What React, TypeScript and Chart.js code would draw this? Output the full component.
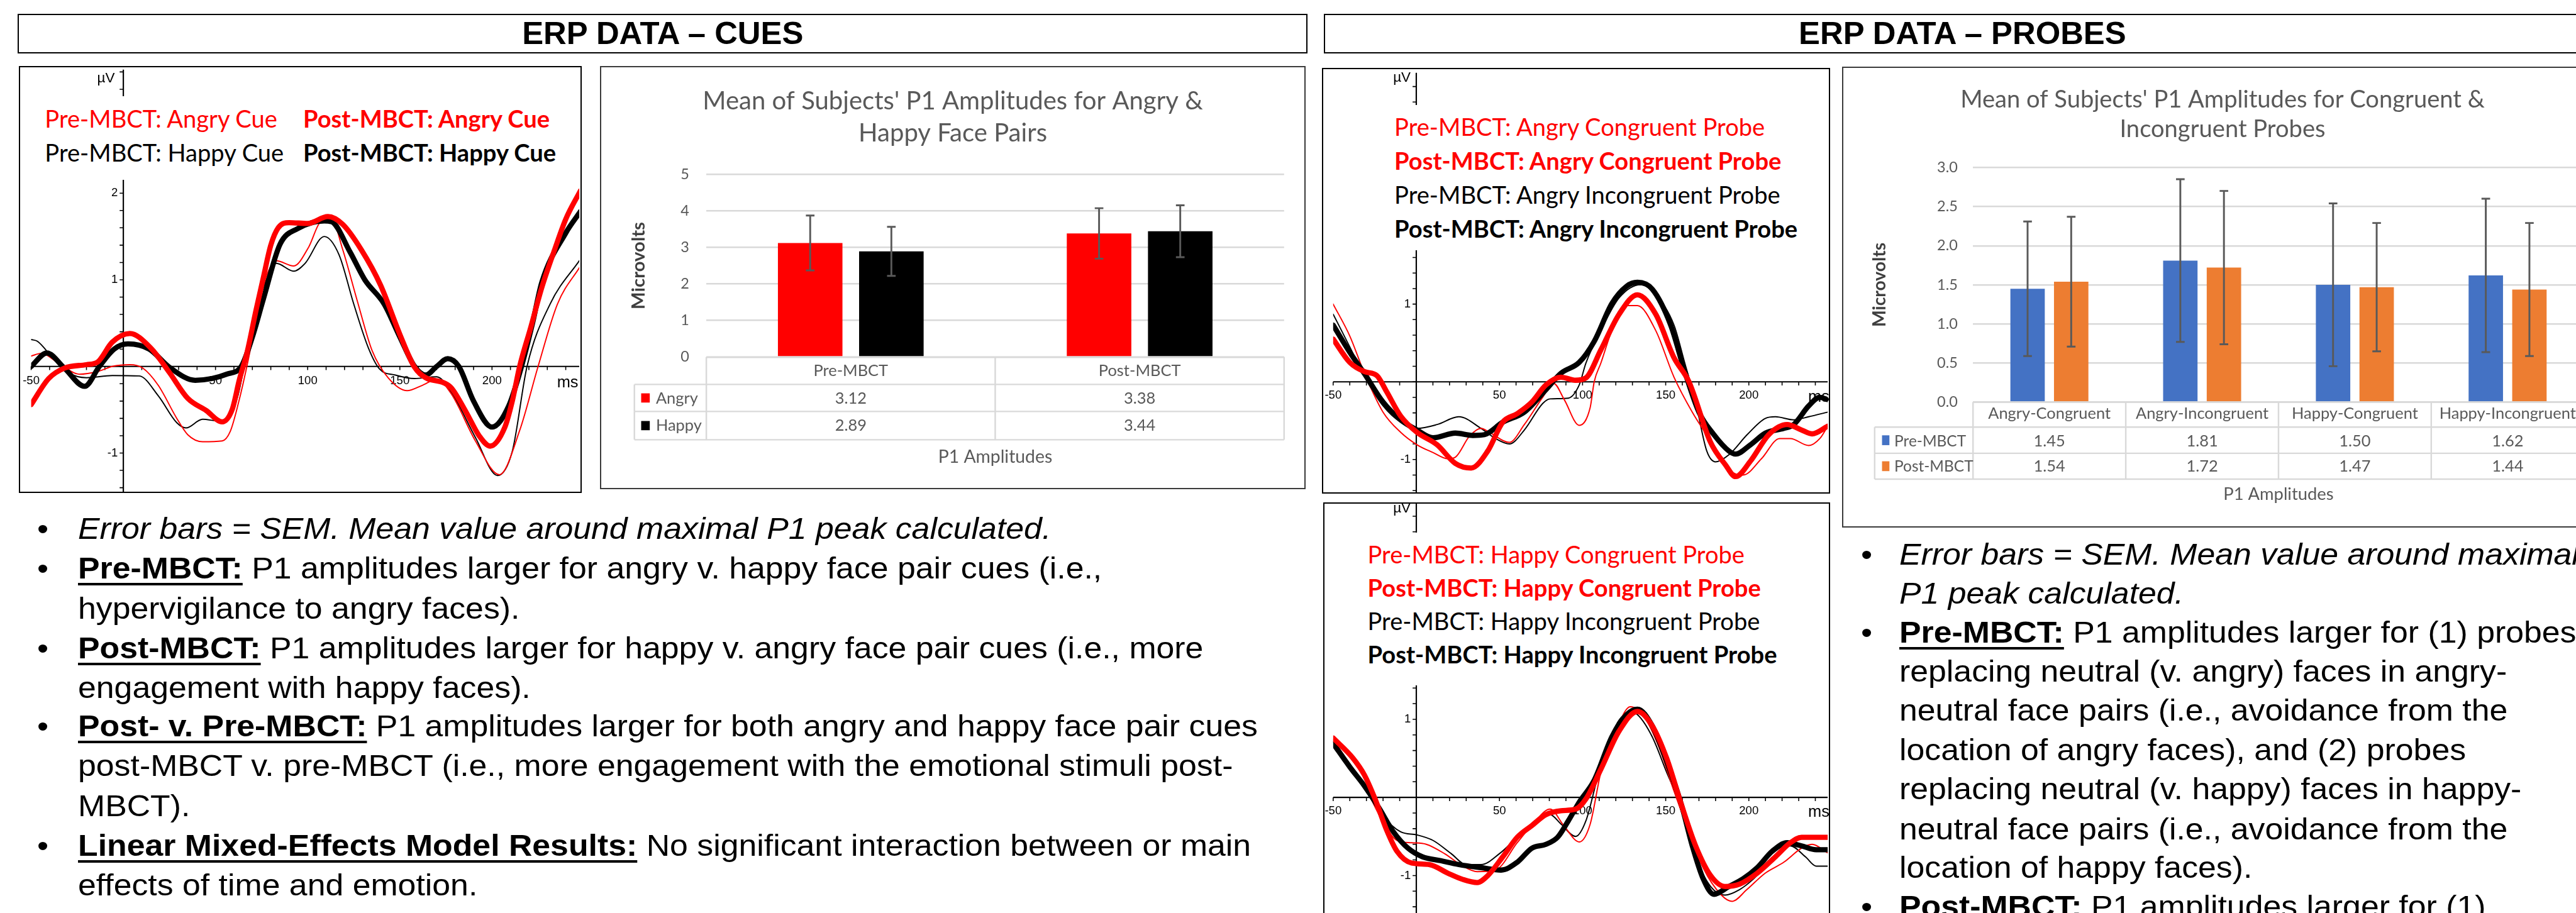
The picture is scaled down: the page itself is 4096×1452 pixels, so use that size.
import React, { useEffect, useRef } from 'react';
import { Chart, registerables } from 'chart.js';
Chart.register(...registerables);

const S = 4096 / 4190;
const p = (v: number) => v * S;

const ARIAL = "'Liberation Sans', Arial, Helvetica, sans-serif";
const CAL = "Lato, 'Open Sans', sans-serif";
const RED = '#FF0000';
const BLACK = '#000000';
const XL_TEXT = '#595959';
const XL_GRID = '#d9d9d9';

// ---------------- ERP waveform data (ms, µV) ----------------
const cuesPostAngryT = [-50, -40.5, -32, -20, -14, -6, 3.5, 15, 25, 35, 45, 53.6, 59, 63, 67, 72, 76, 80, 84, 90, 100, 111, 119, 129, 139.5, 150, 158, 164, 174, 178, 186, 193, 199, 207, 211, 215, 221, 227, 234, 240, 248];
const cuesPostAngryV = [-0.44, -0.14, -0.02, 0.02, 0.05, 0.28, 0.38, 0.21, -0.07, -0.37, -0.51, -0.64, -0.5, -0.15, 0.15, 0.65, 1.03, 1.4, 1.6, 1.66, 1.65, 1.73, 1.64, 1.35, 0.94, 0.37, -0.01, -0.13, -0.19, -0.25, -0.53, -0.8, -0.92, -0.7, -0.4, 0, 0.45, 0.91, 1.35, 1.7, 2.03];
const cuesPostHappyT = [-50, -41.5, -32, -21, -13, -5, 2.5, 14, 25, 39, 48, 56, 64, 70, 76, 85, 94.5, 109, 113, 123, 131, 141.5, 150, 158, 164, 170, 176, 182, 190, 200, 209, 216, 222, 227, 240, 248];
const cuesPostHappyV = [0, 0.155, -0.02, -0.23, 0, 0.2, 0.26, 0.2, -0.01, -0.16, -0.14, -0.09, 0, 0.34, 0.78, 1.41, 1.59, 1.68, 1.67, 1.32, 1.0, 0.72, 0.34, 0, -0.1, 0.0, 0.09, 0, -0.4, -0.7, -0.46, 0, 0.5, 0.97, 1.54, 1.79];
const cuesPreAngryT = [-50, -44.6, -34, -24, -14, -6, 3.5, 10.6, 19, 29, 35, 43, 53.6, 58, 62, 68, 72, 76, 83, 92.4, 100.6, 107, 113, 119, 127, 135, 143.6, 154, 162, 170, 178, 191, 204, 215, 225, 235.5, 248];
const cuesPreAngryV = [0.12, 0.15, 0.02, -0.09, -0.06, 0, 0.02, -0.02, -0.22, -0.6, -0.79, -0.87, -0.86, -0.75, -0.46, 0.1, 0.55, 0.94, 1.22, 1.16, 1.38, 1.67, 1.7, 1.35, 0.75, 0.18, -0.13, -0.28, -0.22, -0.15, -0.32, -0.86, -1.25, -0.74, 0, 0.72, 1.16];
const cuesPreHappyT = [-50, -46.6, -38, -30, -20, -6, 8.6, 19, 29, 34, 43, 51.5, 57.7, 62, 66, 70, 76, 83, 92.4, 98.6, 109, 117, 125, 133, 139, 147.6, 158, 170, 178, 191, 203, 211, 219, 231.5, 248];
const cuesPreHappyV = [0.31, 0.29, 0.09, -0.07, -0.13, -0.105, -0.11, -0.34, -0.65, -0.71, -0.61, -0.63, -0.56, -0.35, 0.05, 0.45, 0.91, 1.19, 1.1, 1.19, 1.5, 1.29, 0.72, 0.21, -0.03, -0.1, -0.14, -0.12, -0.3, -0.82, -1.26, -0.98, 0, 0.72, 1.24];

const paPreCongT = [-50, -40, -31, -20, -9.4, 0.4, 10, 19, 23.5, 32, 39, 44, 56, 65, 76, 82.6, 89, 98, 104.6, 107, 111, 117.7, 126.5, 133, 144, 155, 166, 177, 188, 196.6, 207.6, 218.5, 225, 236, 242.7, 247.5];
const paPreCongV = [1.0, 0.59, 0.1, -0.39, -0.65, -0.81, -0.91, -0.99, -0.97, -0.7, -0.6, -0.65, -0.78, -0.55, -0.2, -0.02, -0.23, -0.56, -0.33, 0, 0.24, 0.66, 0.98, 0.98, 0.66, 0.06, -0.39, -0.76, -1.13, -1.2, -0.99, -0.73, -0.73, -0.82, -0.73, -0.57];
const paPostCongT = [-50, -40, -31, -23.7, -18, -9.4, 0.4, 12.5, 23.5, 33, 43, 52, 60.7, 69.5, 78, 87, 95.8, 102, 111, 122, 133, 144, 155, 164, 177, 186, 192, 201, 212, 223, 231.7, 238, 247.5];
const paPostCongV = [0.55, 0.25, 0.13, 0.08, -0.12, -0.44, -0.65, -0.81, -1.05, -1.11, -0.89, -0.52, -0.41, -0.26, -0.04, 0.06, 0.02, 0.05, 0.41, 0.87, 1.12, 0.87, 0.31, 0, -0.78, -1.07, -1.22, -1.02, -0.68, -0.55, -0.62, -0.67, -0.57];
const paPreIncT = [-50, -40, -31, -20, -9.4, 0.4, 12.5, 25.6, 39, 47.6, 56, 65, 76, 80.5, 91.4, 98, 102, 111, 122, 135, 144, 155, 161.5, 168, 174.7, 180, 188, 199, 210, 216, 227, 236, 247.5];
const paPreIncV = [0.87, 0.45, 0.06, -0.31, -0.52, -0.6, -0.55, -0.45, -0.6, -0.73, -0.8, -0.62, -0.28, -0.22, -0.21, -0.04, 0.24, 0.66, 1.08, 1.25, 1.12, 0.73, 0.24, -0.26, -0.89, -1.03, -0.94, -0.68, -0.47, -0.45, -0.49, -0.45, -0.39];
const paPostIncT = [-50, -40, -31, -20, -9.4, 0.4, 10, 23.5, 34, 41, 52, 65, 78, 87, 98, 107, 117.7, 126.5, 133, 142, 153, 161.5, 170, 179, 188, 192, 201, 210, 221, 227, 236, 242.7, 247.5];
const paPostIncV = [0.73, 0.38, 0.1, -0.26, -0.49, -0.62, -0.72, -0.66, -0.69, -0.68, -0.52, -0.39, -0.1, 0.11, 0.25, 0.52, 1.01, 1.23, 1.28, 1.19, 0.73, 0.13, -0.39, -0.68, -0.89, -0.93, -0.81, -0.66, -0.6, -0.55, -0.31, -0.2, -0.23];

const phPreCongT = [-50, -42.3, -31.3, -20.4, -11.6, -2.8, 6, 17, 28, 36.6, 47.6, 60.7, 71.7, 80.4, 89, 98, 104.6, 111, 120, 128.7, 137.4, 146, 155, 161.5, 172.5, 183.5, 190, 198.8, 209.8, 221, 231.7, 238, 247.5];
const phPreCongV = [0.74, 0.5, 0.15, -0.3, -0.55, -0.58, -0.6, -0.72, -0.88, -0.95, -0.93, -0.58, -0.3, -0.15, -0.37, -0.57, -0.34, 0.32, 0.85, 1.16, 1.02, 0.64, 0.08, -0.3, -0.9, -1.25, -1.33, -1.18, -0.97, -0.83, -0.65, -0.6, -0.71];
const phPostCongT = [-50, -38, -31.3, -24.8, -18, -11.6, -2.8, 8, 19, 28, 36.6, 43, 52, 60.7, 69.5, 78, 87, 95.8, 102, 111, 122, 133, 141.8, 150.6, 159.4, 168, 177, 185.7, 194.4, 205, 216, 225, 231.7, 247.5];
const phPostCongV = [0.76, 0.5, 0.29, -0.02, -0.41, -0.69, -0.84, -0.86, -0.97, -1.05, -1.09, -1.0, -0.76, -0.51, -0.36, -0.22, -0.17, -0.15, -0.02, 0.36, 0.85, 1.1, 0.92, 0.5, -0.09, -0.62, -1.0, -1.14, -1.11, -0.97, -0.76, -0.58, -0.51, -0.51];
const phPreIncT = [-50, -31.3, -20.4, -9.4, 0.4, 10, 21, 30, 39, 50, 60.7, 71.7, 80.4, 87, 95.8, 102, 109, 120, 128.7, 133, 141.8, 150.6, 159.4, 168, 177, 185.7, 194.4, 203, 214, 225, 234, 240.5, 247.5];
const phPreIncV = [0.71, 0.12, -0.23, -0.44, -0.48, -0.55, -0.72, -0.86, -0.86, -0.72, -0.51, -0.3, -0.22, -0.34, -0.5, -0.3, 0.25, 0.92, 1.09, 1.06, 0.78, 0.32, -0.13, -0.76, -1.14, -1.25, -1.18, -1.04, -0.79, -0.62, -0.76, -0.88, -0.88];
const phPostIncT = [-50, -40, -31.3, -22.6, -13.8, -5, 3.7, 14.7, 25.6, 39, 51, 60.7, 69.5, 78, 85, 91.4, 98, 107, 117.7, 126.5, 133, 141.8, 150.6, 159.4, 166, 172.5, 179, 188, 196.6, 205, 214, 223, 231.7, 240.5, 247.5];
const phPostIncV = [0.69, 0.39, 0.15, -0.13, -0.44, -0.65, -0.76, -0.81, -0.86, -0.9, -0.93, -0.83, -0.65, -0.6, -0.51, -0.3, -0.06, 0.22, 0.78, 1.06, 1.13, 0.92, 0.46, -0.09, -0.62, -1.04, -1.24, -1.14, -1.04, -0.9, -0.69, -0.58, -0.62, -0.67, -0.67];

// ERP axis ticks
const erpXTicks = [-50, -40, -30, -20, -10, 0, 10, 20, 30, 40, 50, 60, 70, 80, 90, 100, 110, 120, 130, 140, 150, 160, 170, 180, 190, 200, 210, 220, 230, 240];
const erpXTickLabels = [-50, 50, 100, 150, 200];
const erpYTickLabels = [-1, 1, 2, 3];
const erpYMinorStep = 0.2;

// ---------------- Bar chart data ----------------
const cuesCategories = ['Pre-MBCT', 'Post-MBCT'];
const cuesAngry = [3.12, 3.38];
const cuesHappy = [2.89, 3.44];
const cuesAngrySem = [0.75, 0.69];
const cuesHappySem = [0.67, 0.71];
const cuesTicks = [0, 1, 2, 3, 4, 5];

const probeCategories = ['Angry-Congruent', 'Angry-Incongruent', 'Happy-Congruent', 'Happy-Incongruent'];
const probePre = [1.45, 1.81, 1.5, 1.62];
const probePost = [1.54, 1.72, 1.47, 1.44];
const probePreSem = [0.86, 1.04, 1.04, 0.98];
const probePostSem = [0.83, 0.98, 0.82, 0.85];
const probeTicks = [0, 0.5, 1, 1.5, 2, 2.5, 3];

const barXTitle = 'P1 Amplitudes';
const barYTitle = 'Microvolts';

type Rect = { x: number; y: number; w: number; h: number };
type Series = { t: number[]; v: number[]; color: string; width: number };
type LegendLine = { text: string; color: string; bold: boolean; x: number; baseline: number };

const ASC_ARIAL = 0.8465;
const ASC_LATO = 0.887;

function TextLine(props: any) {
  const { x, baseline, size, family, ascent, color = '#000', bold = false, italic = false, stretch = 1, children, extra } = props;
  const fs = p(size);
  return (
    <div
      style={{
        position: 'absolute',
        left: p(x),
        top: p(baseline) - ascent * fs,
        fontSize: fs,
        lineHeight: `${fs}px`,
        fontFamily: family,
        fontWeight: bold ? 700 : 400,
        fontStyle: italic ? 'italic' : 'normal',
        color,
        whiteSpace: 'nowrap',
        transform: stretch !== 1 ? `scaleX(${stretch})` : undefined,
        transformOrigin: '0 0',
        ...(extra || {}),
      }}
    >
      {children}
    </div>
  );
}

function BorderBox({ r, width, color }: { r: Rect; width: number; color: string }) {
  return (
    <div
      style={{
        position: 'absolute',
        left: p(r.x),
        top: p(r.y),
        width: p(r.w),
        height: p(r.h),
        border: `${p(width)}px solid ${color}`,
        boxSizing: 'border-box',
        pointerEvents: 'none',
      }}
    />
  );
}

type ErpCfg = {
  box: Rect;
  x0: number;
  pxPerMs: number;
  plotLeft: number;
  plotRight: number;
  y0: number;
  pxPerUV: number;
  plotTop: number;
  plotBottom: number;
  series: Series[];
  legend: LegendLine[];
  legendSize: number;
  whiteBox: Rect;
  uv: { x: number; baseline: number };
  ms: { x: number; baseline: number };
  tickLabelOffset: number;
};

function ErpPanel({ cfg }: { cfg: ErpCfg }) {
  const ref = useRef<HTMLCanvasElement>(null);
  useEffect(() => {
    const { box } = cfg;
    const tMin = (cfg.plotLeft - cfg.x0) / cfg.pxPerMs;
    const tMax = (cfg.plotRight - cfg.x0) / cfg.pxPerMs;
    const vMax = (cfg.y0 - cfg.plotTop) / cfg.pxPerUV;
    const vMin = (cfg.y0 - cfg.plotBottom) / cfg.pxPerUV;
    const axesPlugin = {
      id: 'erpAxes',
      beforeDatasetsDraw(chart: any) {
        const { ctx, chartArea: a, scales } = chart;
        const xs = scales.x;
        const ys = scales.y;
        const xz = xs.getPixelForValue(0);
        const yz = ys.getPixelForValue(0);
        ctx.save();
        ctx.strokeStyle = '#000';
        ctx.lineWidth = p(2.2);
        ctx.beginPath();
        ctx.moveTo(a.left, yz);
        ctx.lineTo(a.right, yz);
        ctx.moveTo(xz, a.top);
        ctx.lineTo(xz, a.bottom);
        ctx.stroke();
        ctx.lineWidth = p(1.6);
        ctx.beginPath();
        for (const t of erpXTicks) {
          const xp = xs.getPixelForValue(t);
          ctx.moveTo(xp, yz);
          ctx.lineTo(xp, yz + p(6));
        }
        for (let k = Math.ceil(ys.min / erpYMinorStep); k * erpYMinorStep <= ys.max; k++) {
          const yp = ys.getPixelForValue(k * erpYMinorStep);
          ctx.moveTo(xz - p(6), yp);
          ctx.lineTo(xz, yp);
        }
        ctx.stroke();
        ctx.fillStyle = '#000';
        ctx.font = `${p(19)}px ${ARIAL}`;
        ctx.textAlign = 'center';
        ctx.textBaseline = 'middle';
        for (const t of erpXTickLabels) ctx.fillText(String(t), xs.getPixelForValue(t), yz + p(cfg.tickLabelOffset));
        ctx.textAlign = 'right';
        for (const v of erpYTickLabels) ctx.fillText(String(v), xz - p(9), ys.getPixelForValue(v));
        ctx.restore();
      },
    };
    const chart = new Chart(ref.current as HTMLCanvasElement, {
      type: 'line',
      data: {
        datasets: cfg.series.map((s) => ({
          data: s.t.map((t, i) => ({ x: t, y: s.v[i] })),
          borderColor: s.color,
          backgroundColor: s.color,
          borderWidth: p(s.width),
          pointRadius: 0,
          fill: false,
          cubicInterpolationMode: 'monotone',
          borderCapStyle: 'round',
          borderJoinStyle: 'round',
        })) as any,
      },
      options: {
        animation: false,
        responsive: false,
        maintainAspectRatio: false,
        devicePixelRatio: 1,
        events: [],
        layout: {
          padding: {
            left: p(cfg.plotLeft - box.x),
            right: p(box.x + box.w - cfg.plotRight),
            top: p(cfg.plotTop - box.y),
            bottom: p(box.y + box.h - cfg.plotBottom),
          },
        },
        plugins: { legend: { display: false }, tooltip: { enabled: false }, title: { display: false } },
        scales: {
          x: { type: 'linear', min: tMin, max: tMax, display: false },
          y: { type: 'linear', min: vMin, max: vMax, display: false },
        },
      } as any,
      plugins: [axesPlugin],
    });
    return () => chart.destroy();
  }, []);
  const { box, whiteBox } = cfg;
  return (
    <>
      <canvas
        ref={ref}
        width={Math.round(p(box.w))}
        height={Math.round(p(box.h))}
        style={{ position: 'absolute', left: p(box.x), top: p(box.y), width: Math.round(p(box.w)), height: Math.round(p(box.h)) }}
      />
      <div
        style={{
          position: 'absolute',
          left: p(whiteBox.x),
          top: p(whiteBox.y),
          width: p(whiteBox.w),
          height: p(whiteBox.h),
          background: '#fff',
        }}
      />
      {cfg.legend.map((l, i) => (
        <TextLine key={i} x={l.x} baseline={l.baseline} size={cfg.legendSize} family={CAL} ascent={ASC_LATO} color={l.color} bold={l.bold}>
          {l.text}
        </TextLine>
      ))}
      <TextLine x={cfg.uv.x} baseline={cfg.uv.baseline} size={23} family={ARIAL} ascent={ASC_ARIAL}>
        µV
      </TextLine>
      <TextLine x={cfg.ms.x} baseline={cfg.ms.baseline} size={26} family={ARIAL} ascent={ASC_ARIAL}>
        ms
      </TextLine>
      <BorderBox r={box} width={2.5} color="#000" />
    </>
  );
}

type BarSeries = { label: string; values: number[]; errors: number[]; color: string };
type BarCfg = {
  box: Rect;
  plot: { left: number; right: number; top: number; bottom: number };
  categories: string[];
  series: BarSeries[];
  ticks: number[];
  tickDecimals: number;
  barPct: number;
  catPct: number;
  title: string[];
  titleBaselines: number[];
  headerBaseline: number;
  rowBaselines: number[];
  rowLines: number[];
  leftColX: number;
  keyX: number;
  keyW: number;
  keyH: number;
  rowLabelX: number;
  axisTitleBaseline: number;
  yTitleX: number;
  tickPad: number;
  tickSize: number;
  catSize: number;
  valSize: number;
  rowLabelSize: number;
  titleSize: number;
  axisTitleSize: number;
  yTitleSize: number;
};

function BarPanel({ cfg }: { cfg: BarCfg }) {
  const ref = useRef<HTMLCanvasElement>(null);
  useEffect(() => {
    const { box, plot } = cfg;
    const yAxisW = 60;
    const X = (r: number) => p(r - box.x);
    const Y = (r: number) => p(r - box.y);
    const extras = {
      id: 'excelExtras',
      afterDatasetsDraw(chart: any) {
        const { ctx, scales } = chart;
        const ys = scales.y;
        ctx.save();
        ctx.strokeStyle = XL_TEXT;
        ctx.lineWidth = p(3);
        cfg.series.forEach((s, di) => {
          const meta = chart.getDatasetMeta(di);
          meta.data.forEach((bar: any, i: number) => {
            const v = s.values[i];
            const e = s.errors[i];
            const top = ys.getPixelForValue(v + e);
            const bot = ys.getPixelForValue(v - e);
            const cw = p(7);
            ctx.beginPath();
            ctx.moveTo(bar.x, top);
            ctx.lineTo(bar.x, bot);
            ctx.moveTo(bar.x - cw, top);
            ctx.lineTo(bar.x + cw, top);
            ctx.moveTo(bar.x - cw, bot);
            ctx.lineTo(bar.x + cw, bot);
            ctx.stroke();
          });
        });
        ctx.restore();
      },
      afterDraw(chart: any) {
        const { ctx, chartArea: a, scales } = chart;
        const xs = scales.x;
        const n = cfg.categories.length;
        const bounds = [a.left];
        for (let i = 0; i < n - 1; i++) bounds.push((xs.getPixelForValue(i) + xs.getPixelForValue(i + 1)) / 2);
        bounds.push(a.right);
        const tableBottom = Y(cfg.rowLines[cfg.rowLines.length - 1]);
        ctx.save();
        ctx.strokeStyle = XL_GRID;
        ctx.lineWidth = p(2.5);
        ctx.beginPath();
        ctx.moveTo(a.left, a.bottom);
        ctx.lineTo(a.right, a.bottom);
        for (const ry of cfg.rowLines) {
          ctx.moveTo(X(cfg.leftColX), Y(ry));
          ctx.lineTo(a.right, Y(ry));
        }
        for (const bx of bounds) {
          ctx.moveTo(bx, a.bottom);
          ctx.lineTo(bx, tableBottom);
        }
        ctx.moveTo(X(cfg.leftColX), Y(cfg.rowLines[0]));
        ctx.lineTo(X(cfg.leftColX), tableBottom);
        ctx.stroke();

        ctx.textBaseline = 'alphabetic';
        ctx.fillStyle = XL_TEXT;
        ctx.textAlign = 'center';
        ctx.font = `${p(cfg.catSize)}px ${CAL}`;
        cfg.categories.forEach((c, i) => ctx.fillText(c, xs.getPixelForValue(i), Y(cfg.headerBaseline)));
        ctx.font = `${p(cfg.valSize)}px ${CAL}`;
        cfg.series.forEach((s, si) =>
          s.values.forEach((v, i) => ctx.fillText(v.toFixed(2), xs.getPixelForValue(i), Y(cfg.rowBaselines[si])))
        );
        ctx.font = `${p(cfg.rowLabelSize)}px ${CAL}`;
        cfg.series.forEach((s, si) => {
          const cy = (Y(cfg.rowLines[si]) + Y(cfg.rowLines[si + 1])) / 2;
          ctx.fillStyle = s.color;
          ctx.fillRect(X(cfg.keyX), cy - p(cfg.keyH) / 2, p(cfg.keyW), p(cfg.keyH));
          ctx.fillStyle = XL_TEXT;
          ctx.textAlign = 'left';
          ctx.fillText(s.label, X(cfg.rowLabelX), Y(cfg.rowBaselines[si]));
        });
        ctx.textAlign = 'center';
        ctx.font = `${p(cfg.axisTitleSize)}px ${CAL}`;
        ctx.fillText(barXTitle, (a.left + a.right) / 2, Y(cfg.axisTitleBaseline));
        ctx.font = `${p(cfg.titleSize)}px ${CAL}`;
        cfg.title.forEach((t, i) => ctx.fillText(t, chart.width / 2, Y(cfg.titleBaselines[i])));
        ctx.save();
        ctx.translate(X(cfg.yTitleX), (a.top + a.bottom) / 2);
        ctx.rotate(-Math.PI / 2);
        ctx.font = `bold ${p(cfg.yTitleSize)}px ${CAL}`;
        ctx.fillStyle = '#3f3f3f';
        ctx.textBaseline = 'middle';
        ctx.fillText(barYTitle, 0, 0);
        ctx.restore();
        ctx.restore();
      },
    };
    const chart = new Chart(ref.current as HTMLCanvasElement, {
      type: 'bar',
      data: {
        labels: cfg.categories,
        datasets: cfg.series.map((s) => ({
          label: s.label,
          data: s.values,
          backgroundColor: s.color,
          borderWidth: 0,
          barPercentage: cfg.barPct,
          categoryPercentage: cfg.catPct,
        })),
      },
      options: {
        animation: false,
        responsive: false,
        maintainAspectRatio: false,
        devicePixelRatio: 1,
        events: [],
        layout: {
          padding: {
            left: p(plot.left - box.x) - p(yAxisW),
            right: p(box.x + box.w - plot.right),
            top: p(plot.top - box.y),
            bottom: p(box.y + box.h - plot.bottom),
          },
        },
        plugins: { legend: { display: false }, tooltip: { enabled: false }, title: { display: false } },
        scales: {
          x: { type: 'category', display: false, offset: true },
          y: {
            type: 'linear',
            min: cfg.ticks[0],
            max: cfg.ticks[cfg.ticks.length - 1],
            afterBuildTicks: (ax: any) => {
              ax.ticks = cfg.ticks.map((v) => ({ value: v }));
            },
            afterFit: (ax: any) => {
              ax.width = p(yAxisW);
            },
            grid: { color: XL_GRID, lineWidth: p(2.5), drawTicks: false },
            border: { display: false },
            ticks: {
              padding: p(cfg.tickPad),
              color: XL_TEXT,
              font: { family: CAL, size: p(cfg.tickSize) },
              callback: (v: any) => Number(v).toFixed(cfg.tickDecimals),
            },
          },
        },
      } as any,
      plugins: [extras],
    });
    return () => chart.destroy();
  }, []);
  const { box } = cfg;
  return (
    <>
      <canvas
        ref={ref}
        width={Math.round(p(box.w))}
        height={Math.round(p(box.h))}
        style={{ position: 'absolute', left: p(box.x), top: p(box.y), width: Math.round(p(box.w)), height: Math.round(p(box.h)) }}
      />
      <BorderBox r={box} width={2.5} color="#3a3a3a" />
    </>
  );
}

function HeaderBox({ r, text }: { r: Rect; text: string }) {
  return (
    <div
      style={{
        position: 'absolute',
        left: p(r.x),
        top: p(r.y),
        width: p(r.w),
        height: p(r.h),
        border: `${p(3)}px solid #000`,
        boxSizing: 'border-box',
        display: 'flex',
        alignItems: 'center',
        justifyContent: 'center',
        fontFamily: ARIAL,
        fontWeight: 700,
        fontSize: p(52),
        lineHeight: 1,
        color: '#000',
        whiteSpace: 'nowrap',
      }}
    >
      {text}
    </div>
  );
}

type Seg = { t: string; b?: boolean; i?: boolean; u?: boolean };
type BLine = { segs: Seg[]; bullet?: boolean };

const leftBullets: BLine[] = [
  { bullet: true, segs: [{ t: 'Error bars = SEM. Mean value around maximal P1 peak calculated.', i: true }] },
  { bullet: true, segs: [{ t: 'Pre-MBCT:', b: true, u: true }, { t: ' P1 amplitudes larger for angry v. happy face pair cues (i.e.,' }] },
  { segs: [{ t: 'hypervigilance to angry faces).' }] },
  { bullet: true, segs: [{ t: 'Post-MBCT:', b: true, u: true }, { t: ' P1 amplitudes larger for happy v. angry face pair cues (i.e., more' }] },
  { segs: [{ t: 'engagement with happy faces).' }] },
  { bullet: true, segs: [{ t: 'Post- v. Pre-MBCT:', b: true, u: true }, { t: ' P1 amplitudes larger for both angry and happy face pair cues' }] },
  { segs: [{ t: 'post-MBCT v. pre-MBCT (i.e., more engagement with the emotional stimuli post-' }] },
  { segs: [{ t: 'MBCT).' }] },
  { bullet: true, segs: [{ t: 'Linear Mixed-Effects Model Results:', b: true, u: true }, { t: ' No significant interaction between or main' }] },
  { segs: [{ t: 'effects of time and emotion.' }] },
];
const leftBaselines = [877, 942, 1006.5, 1071, 1136, 1198.5, 1263, 1328, 1393, 1457];

const rightBullets: BLine[] = [
  { bullet: true, segs: [{ t: 'Error bars = SEM. Mean value around maximal', i: true }] },
  { segs: [{ t: 'P1 peak calculated.', i: true }] },
  { bullet: true, segs: [{ t: 'Pre-MBCT:', b: true, u: true }, { t: ' P1 amplitudes larger for (1) probes' }] },
  { segs: [{ t: 'replacing neutral (v. angry) faces in angry-' }] },
  { segs: [{ t: 'neutral face pairs (i.e., avoidance from the' }] },
  { segs: [{ t: 'location of angry faces), and (2) probes' }] },
  { segs: [{ t: 'replacing neutral (v. happy) faces in happy-' }] },
  { segs: [{ t: 'neutral face pairs (i.e., avoidance from the' }] },
  { segs: [{ t: 'location of happy faces).' }] },
  { bullet: true, segs: [{ t: 'Post-MBCT:', b: true, u: true }, { t: ' P1 amplitudes larger for (1)' }] },
];
const rightBaselines = [919, 982, 1045.7, 1109.4, 1173, 1237, 1300.7, 1366.5, 1428, 1492];

function Bullets({ lines, baselines, bulletX, textX }: { lines: BLine[]; baselines: number[]; bulletX: number; textX: number }) {
  const size = 50;
  const stretch = 1.06;
  return (
    <>
      {lines.map((l, li) => (
        <React.Fragment key={li}>
          {l.bullet && (
            <TextLine x={bulletX} baseline={baselines[li]} size={size} family={ARIAL} ascent={ASC_ARIAL} stretch={stretch}>
              •
            </TextLine>
          )}
          <TextLine x={textX} baseline={baselines[li]} size={size} family={ARIAL} ascent={ASC_ARIAL} stretch={stretch}>
            {l.segs.map((s, si) => (
              <span
                key={si}
                style={{
                  fontWeight: s.b ? 700 : 400,
                  fontStyle: s.i ? 'italic' : 'normal',
                  textDecoration: s.u ? 'underline' : 'none',
                  textDecorationThickness: s.u ? p(4.5) : undefined,
                  textUnderlineOffset: s.u ? p(7) : undefined,
                }}
              >
                {s.t}
              </span>
            ))}
          </TextLine>
        </React.Fragment>
      ))}
    </>
  );
}

const cuesErp: ErpCfg = {
  box: { x: 31, y: 107, w: 915, h: 695 },
  x0: 201,
  pxPerMs: 3.0,
  plotLeft: 51,
  plotRight: 943,
  y0: 596,
  pxPerUV: 141,
  plotTop: 113,
  plotBottom: 800,
  series: [
    { t: cuesPostAngryT, v: cuesPostAngryV, color: RED, width: 8.5 },
    { t: cuesPostHappyT, v: cuesPostHappyV, color: BLACK, width: 8.5 },
    { t: cuesPreAngryT, v: cuesPreAngryV, color: RED, width: 2 },
    { t: cuesPreHappyT, v: cuesPreHappyV, color: BLACK, width: 2 },
  ],
  legend: [
    { text: 'Pre-MBCT: Angry Cue', color: RED, bold: false, x: 73, baseline: 207 },
    { text: 'Post-MBCT: Angry Cue', color: RED, bold: true, x: 493, baseline: 207 },
    { text: 'Pre-MBCT: Happy Cue', color: BLACK, bold: false, x: 73, baseline: 263 },
    { text: 'Post-MBCT: Happy Cue', color: BLACK, bold: true, x: 493, baseline: 263 },
  ],
  legendSize: 39,
  whiteBox: { x: 40, y: 157, w: 896, h: 136 },
  uv: { x: 158, baseline: 135 },
  ms: { x: 906, baseline: 631 },
  tickLabelOffset: 24,
};

const angryErp: ErpCfg = {
  box: { x: 2150, y: 110, w: 827, h: 693 },
  x0: 2303.5,
  pxPerMs: 2.706,
  plotLeft: 2168.2,
  plotRight: 2973,
  y0: 621,
  pxPerUV: 126.5,
  plotTop: 118,
  plotBottom: 801,
  series: [
    { t: paPostCongT, v: paPostCongV, color: RED, width: 8.5 },
    { t: paPostIncT, v: paPostIncV, color: BLACK, width: 8.5 },
    { t: paPreCongT, v: paPreCongV, color: RED, width: 2 },
    { t: paPreIncT, v: paPreIncV, color: BLACK, width: 2 },
  ],
  legend: [
    { text: 'Pre-MBCT: Angry Congruent Probe', color: RED, bold: false, x: 2268, baseline: 221 },
    { text: 'Post-MBCT: Angry Congruent Probe', color: RED, bold: true, x: 2268, baseline: 276 },
    { text: 'Pre-MBCT: Angry Incongruent Probe', color: BLACK, bold: false, x: 2268, baseline: 331 },
    { text: 'Post-MBCT: Angry Incongruent Probe', color: BLACK, bold: true, x: 2268, baseline: 386 },
  ],
  legendSize: 39,
  whiteBox: { x: 2160, y: 171, w: 812, h: 236 },
  uv: { x: 2266, baseline: 134 },
  ms: { x: 2941, baseline: 654 },
  tickLabelOffset: 22,
};

const happyErp: ErpCfg = {
  box: { x: 2152, y: 817, w: 825, h: 690 },
  x0: 2303.5,
  pxPerMs: 2.706,
  plotLeft: 2168.2,
  plotRight: 2973,
  y0: 1296.6,
  pxPerUV: 127,
  plotTop: 819,
  plotBottom: 1500,
  series: [
    { t: phPostCongT, v: phPostCongV, color: RED, width: 8.5 },
    { t: phPostIncT, v: phPostIncV, color: BLACK, width: 8.5 },
    { t: phPreCongT, v: phPreCongV, color: RED, width: 2 },
    { t: phPreIncT, v: phPreIncV, color: BLACK, width: 2 },
  ],
  legend: [
    { text: 'Pre-MBCT: Happy Congruent Probe', color: RED, bold: false, x: 2224.5, baseline: 916 },
    { text: 'Post-MBCT: Happy Congruent Probe', color: RED, bold: true, x: 2224.5, baseline: 971 },
    { text: 'Pre-MBCT: Happy Incongruent Probe', color: BLACK, bold: false, x: 2224.5, baseline: 1025 },
    { text: 'Post-MBCT: Happy Incongruent Probe', color: BLACK, bold: true, x: 2224.5, baseline: 1079 },
  ],
  legendSize: 39,
  whiteBox: { x: 2160, y: 866, w: 812, h: 249 },
  uv: { x: 2266, baseline: 835 },
  ms: { x: 2941, baseline: 1329 },
  tickLabelOffset: 22,
};

const cuesBar: BarCfg = {
  box: { x: 976, y: 107, w: 1148, h: 689 },
  plot: { left: 1149, right: 2089, top: 283, bottom: 580 },
  categories: cuesCategories,
  series: [
    { label: 'Angry', values: cuesAngry, errors: cuesAngrySem, color: RED },
    { label: 'Happy', values: cuesHappy, errors: cuesHappySem, color: BLACK },
  ],
  ticks: cuesTicks,
  tickDecimals: 0,
  barPct: 0.795,
  catPct: 0.562,
  title: ["Mean of Subjects' P1 Amplitudes for Angry &", 'Happy Face Pairs'],
  titleBaselines: [178, 230],
  headerBaseline: 611,
  rowBaselines: [656, 700],
  rowLines: [625, 669, 715],
  leftColX: 1032,
  keyX: 1043,
  keyW: 14,
  keyH: 15,
  rowLabelX: 1067,
  axisTitleBaseline: 752,
  yTitleX: 1039,
  tickPad: 28,
  tickSize: 24,
  catSize: 26,
  valSize: 26,
  rowLabelSize: 26,
  titleSize: 41,
  axisTitleSize: 29,
  yTitleSize: 30,
};

const probesBar: BarCfg = {
  box: { x: 2996, y: 108, w: 1238, h: 750 },
  plot: { left: 3209, right: 4203, top: 272, bottom: 654 },
  categories: probeCategories,
  series: [
    { label: 'Pre-MBCT', values: probePre, errors: probePreSem, color: '#4472C4' },
    { label: 'Post-MBCT', values: probePost, errors: probePostSem, color: '#ED7D31' },
  ],
  ticks: probeTicks,
  tickDecimals: 1,
  barPct: 0.789,
  catPct: 0.571,
  title: ["Mean of Subjects' P1 Amplitudes for Congruent &", 'Incongruent Probes'],
  titleBaselines: [174, 223],
  headerBaseline: 681,
  rowBaselines: [725.5, 767],
  rowLines: [694.5, 737, 779],
  leftColX: 3049,
  keyX: 3061,
  keyW: 12,
  keyH: 16,
  rowLabelX: 3081,
  axisTitleBaseline: 812.6,
  yTitleX: 3057,
  tickPad: 25,
  tickSize: 24,
  catSize: 26,
  valSize: 26,
  rowLabelSize: 25,
  titleSize: 39,
  axisTitleSize: 28,
  yTitleSize: 29,
};

export default function App() {
  return (
    <div
      style={{
        position: 'fixed',
        left: 0,
        top: 0,
        width: 4096,
        height: 1452,
        overflow: 'hidden',
        background: '#fff',
        fontFamily: ARIAL,
      }}
    >
      <HeaderBox r={{ x: 29, y: 23, w: 2098, h: 64 }} text="ERP DATA – CUES" />
      <HeaderBox r={{ x: 2153, y: 23, w: 2078, h: 64 }} text="ERP DATA – PROBES" />
      <ErpPanel cfg={cuesErp} />
      <BarPanel cfg={cuesBar} />
      <ErpPanel cfg={angryErp} />
      <ErpPanel cfg={happyErp} />
      <BarPanel cfg={probesBar} />
      <Bullets lines={leftBullets} baselines={leftBaselines} bulletX={60} textX={127} />
      <Bullets lines={rightBullets} baselines={rightBaselines} bulletX={3026.5} textX={3089.5} />
    </div>
  );
}
